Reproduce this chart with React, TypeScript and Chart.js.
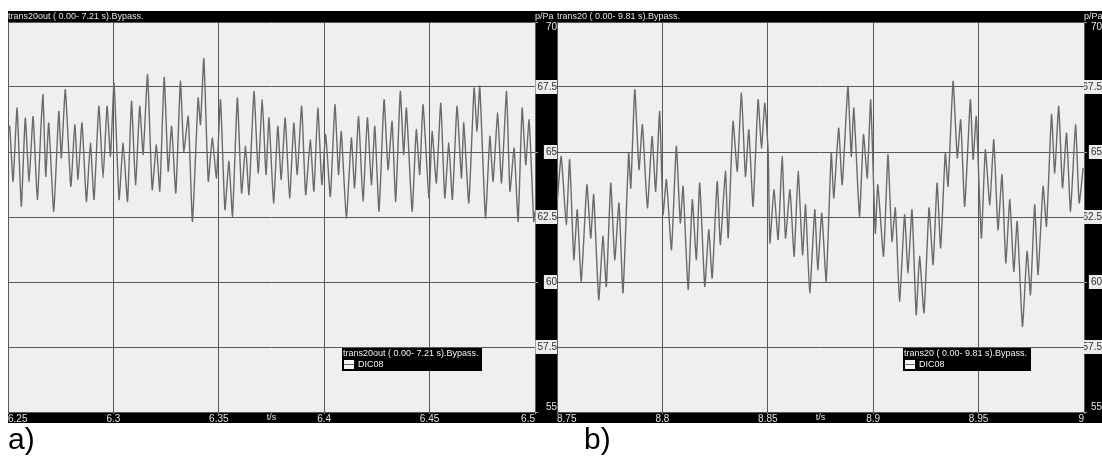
import React, { useEffect, useRef } from 'react';
import { Chart, registerables } from 'chart.js';

Chart.register(...registerables);

// ---------- text ----------
const titleA = 'trans20out ( 0.00- 7.21 s).Bypass.';
const titleB = 'trans20 ( 0.00- 9.81 s).Bypass.';
const seriesName = 'DIC08';
const yUnit = 'p/Pa';
const xUnit = 't/s';
const panelLabelA = 'a)';
const panelLabelB = 'b)';

// ---------- axes ----------
const xRangeA = [6.25, 6.5];
const xRangeB = [8.75, 9.0];
const yRange = [55, 70];
const xStep = 0.05;
const yStep = 2.5;

// ---------- panel a) ----------
const timeA = [
  6.2500, 6.2508, 6.2524, 6.2543, 6.2563, 6.2582, 6.2600, 6.2619, 6.2639, 6.2658,
  6.2666, 6.2679, 6.2693, 6.2717, 6.2741, 6.2753, 6.2772, 6.2798, 6.2817, 6.2832,
  6.2851, 6.2872, 6.2891, 6.2908, 6.2931, 6.2951, 6.2970, 6.2986, 6.3003, 6.3027,
  6.3046, 6.3067, 6.3086, 6.3105, 6.3125, 6.3141, 6.3162, 6.3184, 6.3204, 6.3220,
  6.3241, 6.3260, 6.3276, 6.3296, 6.3318, 6.3334, 6.3355, 6.3375, 6.3402, 6.3413,
  6.3429, 6.3450, 6.3469, 6.3489, 6.3508, 6.3529, 6.3548, 6.3565, 6.3588, 6.3608,
  6.3627, 6.3643, 6.3667, 6.3687, 6.3706, 6.3724, 6.3738,
  6.3760, 6.3780, 6.3796, 6.3815, 6.3836, 6.3856, 6.3872, 6.3893, 6.3912, 6.3934,
  6.3951, 6.3970, 6.3989, 6.4007, 6.4029, 6.4051, 6.4068, 6.4081, 6.4105, 6.4129,
  6.4144, 6.4163, 6.4184, 6.4205, 6.4224, 6.4240, 6.4260, 6.4284, 6.4303, 6.4322,
  6.4339, 6.4361, 6.4377, 6.4390, 6.4417, 6.4437, 6.4453, 6.4469, 6.4497, 6.4512,
  6.4532, 6.4553, 6.4572, 6.4591, 6.4608, 6.4630, 6.4651, 6.4662, 6.4686, 6.4711,
  6.4725, 6.4738, 6.4765, 6.4786, 6.4801, 6.4823, 6.4841, 6.4865, 6.4881, 6.4901,
  6.4920, 6.4939, 6.4956, 6.4972, 6.4994, 6.5000,
];
const pressureA = [
  65.79, 65.99, 63.87, 66.69, 62.91, 66.31, 63.87, 66.37, 63.17, 66.24,
  67.21, 64.06, 66.12, 62.72, 66.56, 64.77, 67.40, 63.68, 66.05, 63.94,
  66.12, 63.10, 65.35, 63.17, 66.76, 64.00, 66.76, 64.83, 67.65, 63.17,
  65.35, 63.10, 66.95, 63.74, 66.76, 64.90, 67.97, 63.55, 65.28, 63.49,
  67.87, 64.26, 65.99, 63.42, 67.72, 65.03, 66.37, 62.33, 67.08, 66.05,
  68.59, 63.87, 65.54, 64.00, 67.01, 62.78, 64.64, 62.53, 67.08, 63.42,
  65.22, 63.36, 67.33, 64.19, 67.01, 64.13, 66.31,
  63.04, 65.99, 63.94, 66.31, 63.23, 66.12, 64.13, 66.76, 63.36, 65.47,
  63.49, 66.69, 63.74, 65.67, 63.29, 66.82, 64.13, 65.79, 62.46, 65.54,
  63.62, 66.37, 63.10, 66.31, 63.74, 65.99, 62.72, 67.01, 64.32, 66.18,
  63.10, 67.33, 64.90, 66.69, 62.72, 65.86, 64.13, 66.82, 63.23, 65.79,
  63.81, 66.88, 63.23, 65.35, 63.17, 66.76, 64.00, 66.12, 63.04, 67.46,
  65.79, 67.53, 62.46, 65.60, 63.87, 66.50, 63.81, 67.33, 63.49, 65.15,
  62.33, 66.69, 64.51, 66.24, 62.33, 62.72,
];

// ---------- panel b) ----------
const timeB = [
  8.7501, 8.7520, 8.7544, 8.7560, 8.7580, 8.7596, 8.7615, 8.7642, 8.7660, 8.7674,
  8.7698, 8.7718, 8.7734, 8.7755, 8.7774, 8.7794, 8.7813, 8.7840, 8.7850, 8.7869,
  8.7889, 8.7905, 8.7929, 8.7951, 8.7968, 8.7987, 8.8003, 8.8019, 8.8043, 8.8066,
  8.8085, 8.8098, 8.8122, 8.8142, 8.8161, 8.8177, 8.8201, 8.8220, 8.8236, 8.8260,
  8.8275, 8.8299, 8.8312, 8.8335, 8.8355, 8.8375, 8.8394, 8.8410, 8.8430, 8.8454,
  8.8470, 8.8486, 8.8502, 8.8510, 8.8529, 8.8549, 8.8568, 8.8584, 8.8605, 8.8625,
  8.8644, 8.8665, 8.8679, 8.8699, 8.8723,
  8.8737, 8.8756, 8.8777, 8.8801, 8.8813, 8.8836, 8.8853, 8.8880, 8.8896, 8.8908,
  8.8935, 8.8954, 8.8972, 8.8988, 8.9010, 8.9022, 8.9049, 8.9070, 8.9089, 8.9105,
  8.9125, 8.9149, 8.9165, 8.9184, 8.9204, 8.9220, 8.9241, 8.9265, 8.9284, 8.9303,
  8.9320, 8.9342, 8.9355, 8.9379, 8.9399, 8.9415, 8.9434, 8.9461, 8.9474, 8.9489,
  8.9513, 8.9532, 8.9553, 8.9572, 8.9592, 8.9611, 8.9629, 8.9648, 8.9667, 8.9683,
  8.9708, 8.9730, 8.9746, 8.9766, 8.9782, 8.9806, 8.9822, 8.9846, 8.9861, 8.9880,
  8.9898, 8.9917, 8.9936, 8.9960, 8.9977, 8.9996,
];
const pressureB = [
  63.10, 64.83, 62.21, 64.71, 60.86, 62.78, 60.03, 63.74, 61.69, 63.36,
  59.32, 61.76, 59.83, 63.81, 60.86, 63.04, 59.58, 64.96, 63.62, 67.40,
  64.32, 66.05, 62.85, 65.60, 63.49, 66.56, 62.59, 63.94, 61.24, 65.22,
  62.27, 63.68, 59.71, 63.17, 60.86, 63.81, 59.83, 62.01, 60.15, 63.87,
  61.44, 64.26, 61.69, 66.18, 64.26, 67.27, 64.06, 65.86, 62.91, 67.01,
  65.15, 66.88, 64.96, 61.50, 63.55, 61.63, 64.83, 61.69, 63.55, 60.99,
  64.26, 61.05, 62.97, 59.58, 62.78,
  60.47, 62.65, 60.03, 64.96, 63.23, 65.92, 63.74, 67.53, 64.83, 66.69,
  62.53, 65.67, 64.00, 67.01, 61.88, 63.74, 60.99, 64.90, 61.56, 62.85,
  59.26, 62.59, 60.35, 62.78, 58.74, 60.99, 58.81, 62.85, 60.67, 63.81,
  61.31, 64.96, 63.68, 67.72, 64.77, 66.24, 62.91, 67.01, 64.71, 66.37,
  61.69, 65.09, 62.97, 65.47, 62.01, 64.13, 60.73, 63.17, 60.41, 62.33,
  58.29, 61.18, 59.51, 62.97, 60.28, 63.68, 62.14, 66.44, 64.19, 66.76,
  63.62, 65.73, 62.72, 66.05, 63.04, 64.38,
];

const FONT_FAMILY = "'Liberation Sans', Arial, sans-serif";
const PLOT_BG = '#efefef';
const GRID = '#585858';
const LIGHT_TEXT = '#e4e4e4';
const SMALL = 9;

const decorPlugin = {
  id: 'panelDecor',
  beforeDraw(chart: any) {
    const { ctx, chartArea: ca, width, height } = chart;
    ctx.save();
    ctx.fillStyle = '#000';
    ctx.fillRect(0, 0, width, height);
    ctx.fillStyle = PLOT_BG;
    ctx.fillRect(ca.left, ca.top, ca.right - ca.left, ca.bottom - ca.top);
    ctx.restore();
    // keep the outer y labels inside the plot height
    const ys = chart.scales.y;
    const items = ys.getLabelItems();
    items.forEach((item: any) => {
      const v = Number(item.label);
      if (v === ys.max) item.options.textBaseline = 'top';
      else if (v === ys.min) item.options.textBaseline = 'bottom';
    });
  },
  afterDraw(chart: any, _args: any, opts: any) {
    const { ctx, chartArea: ca } = chart;
    const ds = chart.data.datasets[0];
    ctx.save();
    ctx.font = `${SMALL}px ${FONT_FAMILY}`;
    ctx.textAlign = 'left';
    ctx.textBaseline = 'middle';
    // units
    ctx.fillStyle = LIGHT_TEXT;
    ctx.fillText(opts.unitY, ca.right, ca.top / 2 + 0.5);
    ctx.textAlign = 'center';
    ctx.fillText(opts.unitX, (ca.left + ca.right) / 2, ca.bottom + 6);
    // legend box
    ctx.textAlign = 'left';
    const tw = ctx.measureText(opts.title).width;
    const w = Math.ceil(tw) + 4;
    const h = 23;
    const x = Math.round(ca.right - 53 - w);
    const y = Math.round(ca.bottom - 41 - h);
    ctx.fillStyle = '#000';
    ctx.fillRect(x, y, w, h);
    ctx.fillStyle = '#f2f2f2';
    ctx.fillText(opts.title, x + 1, y + 6);
    ctx.fillStyle = '#f4f4f4';
    ctx.fillRect(x + 2, y + 12, 10, 9);
    ctx.strokeStyle = ds.borderColor;
    ctx.lineWidth = 1;
    ctx.beginPath();
    ctx.moveTo(x + 2, y + 16.5);
    ctx.lineTo(x + 12, y + 16.5);
    ctx.stroke();
    ctx.fillStyle = '#f2f2f2';
    ctx.fillText(ds.label, x + 16, y + 17);
    ctx.restore();
  },
};

function makeConfig(title: string, times: number[], values: number[], xRange: number[], yAxisWidth: number): any {
  const edge = (v: any) => v === yRange[0] || v === yRange[1];
  const tickFont = { family: FONT_FAMILY, size: 10 };
  return {
    type: 'line',
    data: {
      datasets: [
        {
          label: seriesName,
          data: times.map((t, i) => ({ x: t, y: values[i] })),
          borderColor: '#6a6a6a',
          borderWidth: 1.4,
          pointRadius: 0,
          tension: 0.15,
        },
      ],
    },
    options: {
      animation: false,
      responsive: false,
      devicePixelRatio: 1,
      events: [],
      layout: { padding: 0 },
      plugins: {
        legend: { display: false },
        tooltip: { enabled: false },
        title: {
          display: true,
          text: title,
          align: 'start',
          color: LIGHT_TEXT,
          font: { family: FONT_FAMILY, size: SMALL, lineHeight: '11px', weight: 'normal' },
          padding: 0,
        },
        panelDecor: { title, unitX: xUnit, unitY: yUnit },
      },
      scales: {
        x: {
          type: 'linear',
          position: 'bottom',
          min: xRange[0],
          max: xRange[1],
          afterFit: (s: any) => { s.height = 11; },
          ticks: {
            stepSize: xStep,
            autoSkip: false,
            maxRotation: 0,
            align: 'inner',
            padding: -1,
            color: LIGHT_TEXT,
            font: tickFont,
            callback: (v: any) => String(parseFloat(Number(v).toFixed(2))),
          },
          grid: { color: GRID, lineWidth: 1, drawTicks: true, tickLength: 2, tickColor: '#9a9a9a' },
          border: { display: false },
        },
        y: {
          type: 'linear',
          position: 'right',
          min: yRange[0],
          max: yRange[1],
          afterFit: (s: any) => { s.width = yAxisWidth; },
          ticks: {
            stepSize: yStep,
            crossAlign: 'far',
            padding: 0,
            font: tickFont,
            color: (c: any) => (edge(c.tick && c.tick.value) ? LIGHT_TEXT : '#2e2e2e'),
            showLabelBackdrop: (c: any) => !edge(c.tick && c.tick.value),
            backdropColor: '#ececec',
            backdropPadding: { top: 1, bottom: 1, left: 2, right: 1 },
            callback: (v: any) => String(v),
          },
          grid: { color: GRID, lineWidth: 1, tickLength: 3, tickColor: '#9a9a9a' },
          border: { display: false },
        },
      },
    },
    plugins: [decorPlugin],
  };
}

export default function App() {
  const refA = useRef<HTMLCanvasElement>(null);
  const refB = useRef<HTMLCanvasElement>(null);

  useEffect(() => {
    const a = new Chart(refA.current as HTMLCanvasElement, makeConfig(titleA, timeA, pressureA, xRangeA, 22));
    const b = new Chart(refB.current as HTMLCanvasElement, makeConfig(titleB, timeB, pressureB, xRangeB, 18));
    return () => {
      a.destroy();
      b.destroy();
    };
  }, []);

  const labelStyle: React.CSSProperties = {
    position: 'absolute',
    top: 424,
    font: "30px 'Liberation Sans', Arial, sans-serif",
    lineHeight: '30px',
    color: '#000',
  };

  return (
    <div style={{ position: 'absolute', left: 0, top: 0, width: 1102, height: 458, overflow: 'hidden', background: '#fff' }}>
      <canvas ref={refA} width={549} height={412} style={{ position: 'absolute', left: 8, top: 11, width: 549, height: 412 }} />
      <canvas ref={refB} width={545} height={412} style={{ position: 'absolute', left: 557, top: 11, width: 545, height: 412 }} />
      <div style={{ ...labelStyle, left: 8 }}>{panelLabelA}</div>
      <div style={{ ...labelStyle, left: 584 }}>{panelLabelB}</div>
    </div>
  );
}
